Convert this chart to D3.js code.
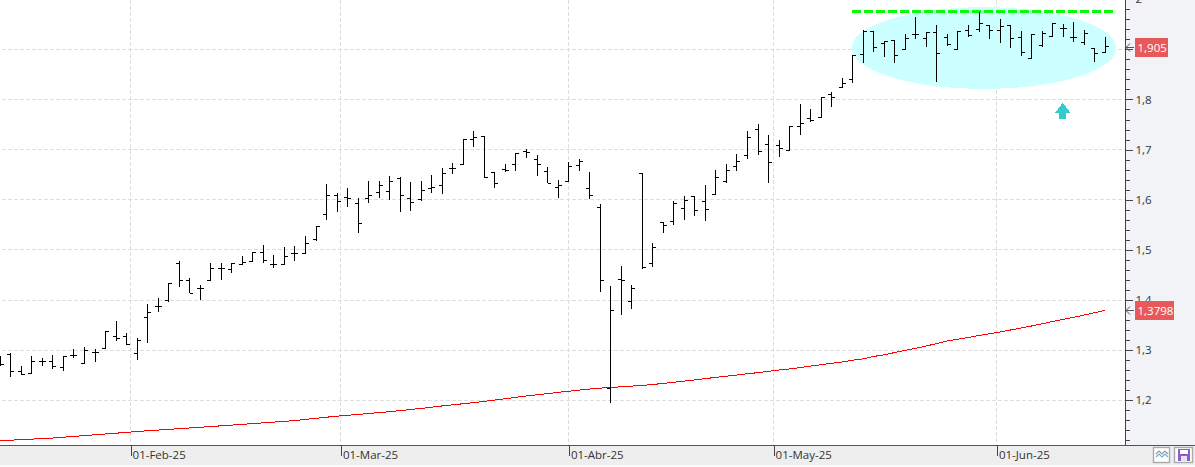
<!DOCTYPE html>
<html>
<head>
<meta charset="utf-8">
<title>Cotización diaria</title>
<script src="https://cdn.jsdelivr.net/npm/d3@7/dist/d3.min.js"></script>
<style>
  html, body { margin: 0; padding: 0; background: #fff; }
  svg { display: block; }
  text { font-family: "Open Sans", "Noto Sans", sans-serif; }
</style>
</head>
<body>
<svg id="chart" width="1195" height="467"></svg>
<script>
// Daily OHLC prices, oldest session first
const opens = [1.280,1.292,1.258,1.254,1.278,1.278,1.266,1.290,1.274,1.296,1.304,1.327,1.328,1.294,1.366,1.388,1.399,1.473,1.438,1.423,1.439,1.463,1.461,1.471,1.476,1.495,1.471,1.471,1.492,1.493,1.520,1.571,1.609,1.604,1.593,1.602,1.615,1.617,1.643,1.602,1.601,1.622,1.629,1.662,1.671,1.721,1.727,1.654,1.660,1.671,1.697,1.681,1.656,1.625,1.637,1.668,1.623,1.585,1.223,1.441,1.397,1.653,1.473,1.555,1.557,1.583,1.607,1.597,1.611,1.636,1.667,1.688,1.740,1.711,1.709,1.699,1.746,1.762,1.764,1.809,1.824,1.840,1.889,1.935,1.911,1.917,1.900,1.929,1.922,1.934,1.924,1.900,1.937,1.940,1.947,1.937,1.947,1.924,1.882,1.907,1.925,1.941,1.923,1.913,1.902,1.893];
const highs = [1.289,1.294,1.268,1.288,1.284,1.290,1.288,1.302,1.306,1.302,1.338,1.358,1.335,1.325,1.393,1.405,1.433,1.478,1.443,1.430,1.473,1.473,1.473,1.488,1.496,1.509,1.489,1.505,1.508,1.528,1.548,1.631,1.613,1.623,1.603,1.637,1.637,1.647,1.645,1.635,1.637,1.649,1.663,1.673,1.721,1.737,1.727,1.656,1.671,1.694,1.701,1.689,1.666,1.639,1.675,1.681,1.655,1.591,1.428,1.468,1.430,1.653,1.513,1.555,1.598,1.607,1.608,1.629,1.659,1.671,1.691,1.737,1.752,1.729,1.719,1.748,1.791,1.781,1.804,1.815,1.842,1.889,1.939,1.936,1.917,1.917,1.930,1.964,1.935,1.949,1.931,1.937,1.948,1.975,1.948,1.960,1.947,1.937,1.930,1.937,1.952,1.950,1.954,1.939,1.902,1.925];
const lows = [1.269,1.247,1.251,1.254,1.268,1.263,1.259,1.284,1.274,1.277,1.304,1.318,1.310,1.280,1.314,1.377,1.397,1.425,1.413,1.400,1.438,1.439,1.454,1.469,1.475,1.473,1.464,1.471,1.478,1.493,1.517,1.560,1.576,1.586,1.534,1.594,1.604,1.599,1.576,1.578,1.598,1.613,1.611,1.651,1.671,1.706,1.644,1.624,1.655,1.658,1.684,1.648,1.633,1.604,1.637,1.658,1.602,1.415,1.194,1.371,1.383,1.461,1.466,1.534,1.550,1.560,1.568,1.558,1.611,1.634,1.658,1.681,1.690,1.633,1.686,1.699,1.730,1.756,1.764,1.784,1.822,1.832,1.872,1.895,1.885,1.873,1.900,1.921,1.905,1.835,1.907,1.900,1.924,1.934,1.920,1.912,1.903,1.887,1.881,1.905,1.924,1.924,1.915,1.909,1.875,1.892];
const closes = [1.272,1.257,1.252,1.277,1.277,1.268,1.288,1.289,1.300,1.296,1.338,1.323,1.312,1.320,1.376,1.388,1.432,1.438,1.413,1.423,1.462,1.463,1.472,1.475,1.495,1.478,1.471,1.487,1.493,1.513,1.547,1.609,1.597,1.603,1.553,1.609,1.628,1.637,1.609,1.595,1.619,1.624,1.653,1.662,1.721,1.725,1.644,1.633,1.658,1.693,1.695,1.671,1.633,1.628,1.666,1.677,1.609,1.439,1.380,1.439,1.423,1.465,1.505,1.549,1.593,1.598,1.578,1.581,1.645,1.659,1.677,1.725,1.697,1.675,1.703,1.747,1.752,1.758,1.804,1.803,1.831,1.887,1.936,1.903,1.915,1.887,1.922,1.930,1.934,1.891,1.909,1.936,1.927,1.951,1.937,1.945,1.922,1.894,1.930,1.931,1.952,1.941,1.923,1.931,1.891,1.905];

// Long moving average, one reading per session
const movingAverage = [1.1194,1.1204,1.1216,1.1226,1.1238,1.1248,1.1264,1.1280,1.1296,1.1312,1.1328,1.1344,1.1360,1.1378,1.1392,1.1406,1.1420,1.1434,1.1448,1.1462,1.1477,1.1491,1.1505,1.1521,1.1535,1.1551,1.1565,1.1581,1.1595,1.1619,1.1641,1.1663,1.1683,1.1701,1.1719,1.1737,1.1755,1.1773,1.1795,1.1817,1.1838,1.1862,1.1888,1.1910,1.1932,1.1954,1.1978,1.2006,1.2032,1.2060,1.2086,1.2110,1.2134,1.2158,1.2181,1.2203,1.2225,1.2243,1.2257,1.2269,1.2283,1.2297,1.2315,1.2337,1.2359,1.2383,1.2407,1.2433,1.2457,1.2481,1.2505,1.2529,1.2552,1.2578,1.2604,1.2626,1.2652,1.2684,1.2710,1.2738,1.2764,1.2800,1.2828,1.2874,1.2909,1.2953,1.2995,1.3039,1.3083,1.3133,1.3183,1.3219,1.3254,1.3292,1.3326,1.3362,1.3402,1.3442,1.3482,1.3526,1.3572,1.3613,1.3655,1.3701,1.3747,1.3798];

// Month labels and the session slot where each month opens
const monthLabels = ["01-Feb-25","01-Mar-25","01-Abr-25","01-May-25","01-Jun-25"];
const monthSlots = [12.38,32.37,54.03,73.48,94.7];

// Price axis ticks and the two values flagged on it
const priceTicks = [1.2,1.3,1.4,1.5,1.6,1.7,1.8,1.9,2];
const minorTicks = d3.range(60).map(i => 1.12 + i * 0.02);
const lastClose = { text: "1,905", value: 1.905 };
const lastAverage = { text: "1,3798", value: 1.3798 };

// Congestion zone annotation, expressed in sessions and prices
const resistance = { from: 80.9, to: 105.8, price: 1.976 };
const zone = { fromSlot: 80.9, toSlot: 106.05, low: 1.821, high: 1.984 };
const upArrow = { slot: 100.96, tip: 1.7935, shoulder: 1.7736, base: 1.761 };

const W = 1195, H = 467, plotRight = 1125, plotBottom = 445;
const svg = d3.select("#chart");

const x = d3.scaleLinear().domain([0, 105]).range([0.3, 1105.3]);
const y = d3.scaleLinear().domain([1.2, 1.9]).range([400.3, 49.3]);
const snap = v => Math.floor(v) + 0.5;

// Panels behind the plot
svg.append("rect").attr("x", 0).attr("y", 0).attr("width", W).attr("height", H).attr("fill", "#ffffff");
svg.append("rect").attr("x", plotRight).attr("y", 0).attr("width", W - plotRight).attr("height", plotBottom)
  .attr("fill", "#f2f3f6");
svg.append("rect").attr("x", 0).attr("y", plotBottom).attr("width", W).attr("height", 20).attr("fill", "#eeeeee");
svg.append("rect").attr("x", 0).attr("y", plotBottom + 20).attr("width", W).attr("height", 2).attr("fill", "#fafafa");

// Dashed grid
const grid = svg.append("g").attr("stroke", "#dedede").attr("stroke-width", 1)
  .attr("stroke-dasharray", "4 2").attr("shape-rendering", "crispEdges");
grid.selectAll("line.h").data(priceTicks.filter(t => t < 2)).join("line").attr("class", "h")
  .attr("x1", 2).attr("x2", plotRight)
  .attr("y1", d => snap(y(d))).attr("y2", d => snap(y(d)));
grid.selectAll("line.v").data(monthSlots).join("line").attr("class", "v")
  .attr("x1", d => snap(x(d))).attr("x2", d => snap(x(d)))
  .attr("y1", 0).attr("y2", plotBottom);

// Congestion zone and its resistance line
svg.append("ellipse")
  .attr("cx", (x(zone.fromSlot) + x(zone.toSlot)) / 2)
  .attr("cy", (y(zone.low) + y(zone.high)) / 2)
  .attr("rx", (x(zone.toSlot) - x(zone.fromSlot)) / 2)
  .attr("ry", (y(zone.low) - y(zone.high)) / 2)
  .attr("fill", "#ccffff").attr("shape-rendering", "crispEdges");
svg.append("line")
  .attr("x1", x(resistance.from)).attr("x2", x(resistance.to))
  .attr("y1", y(resistance.price)).attr("y2", y(resistance.price))
  .attr("stroke", "#00ff00").attr("stroke-width", 3).attr("stroke-dasharray", "9 3")
  .attr("shape-rendering", "crispEdges");

// Moving average
svg.append("path").datum(movingAverage)
  .attr("fill", "none").attr("stroke", "#ff0000").attr("stroke-width", 1)
  .attr("shape-rendering", "crispEdges")
  .attr("d", d3.line().x((d, i) => x(i)).y(d => y(d)));

// OHLC bars
const bars = svg.append("g").attr("stroke", "#000").attr("stroke-width", 1).attr("shape-rendering", "crispEdges");
const sessions = d3.range(opens.length);
const bar = bars.selectAll("g").data(sessions).join("g");
bar.append("line")
  .attr("x1", i => snap(x(i))).attr("x2", i => snap(x(i)))
  .attr("y1", i => y(highs[i])).attr("y2", i => y(lows[i]));
bar.append("line")
  .attr("x1", i => snap(x(i)) - 3.5).attr("x2", i => snap(x(i)))
  .attr("y1", i => snap(y(opens[i]))).attr("y2", i => snap(y(opens[i])));
bar.append("line")
  .attr("x1", i => snap(x(i))).attr("x2", i => snap(x(i)) + 3.5)
  .attr("y1", i => snap(y(closes[i]))).attr("y2", i => snap(y(closes[i])));

// Entry arrow
const ax = x(upArrow.slot), ayTip = y(upArrow.tip), ayShoulder = y(upArrow.shoulder), ayBase = y(upArrow.base);
svg.append("path")
  .attr("d", d3.line()([
    [ax, ayTip], [ax + 7.5, ayShoulder], [ax + 3.5, ayShoulder], [ax + 3.5, ayBase],
    [ax - 3.5, ayBase], [ax - 3.5, ayShoulder], [ax - 7.5, ayShoulder]
  ]) + "Z")
  .attr("fill", "#33cccc").attr("shape-rendering", "crispEdges");

// Price axis; the 1,9 level sits under the last-close flag, so only its tick is drawn
const axisMinor = d3.axisRight(y).tickValues(minorTicks).tickSize(4).tickFormat("");
const axisMajor = d3.axisRight(y).tickValues(priceTicks).tickSize(7).tickPadding(3)
  .tickFormat(d => d === 1.9 ? "" : d3.format("~g")(d).replace(".", ","));
const styleAxis = g => {
  g.attr("shape-rendering", "crispEdges");
  g.selectAll("line").attr("stroke", "#444");
  g.select(".domain").remove();
  g.selectAll("text").attr("font-size", 11.5).attr("fill", "#333").attr("font-family", '"Open Sans", sans-serif');
};
svg.append("g").attr("transform", `translate(${plotRight + 0.5},0)`).call(axisMinor).call(styleAxis);
svg.append("g").attr("transform", `translate(${plotRight + 0.5},0)`).call(axisMajor).call(styleAxis);
svg.append("line").attr("x1", plotRight + 0.5).attr("x2", plotRight + 0.5).attr("y1", 0).attr("y2", plotBottom)
  .attr("stroke", "#444").attr("shape-rendering", "crispEdges");

// Date axis
const axisBottom = d3.axisBottom(x).tickValues(monthSlots).tickSize(10)
  .tickFormat((d, i) => monthLabels[i]);
const dateAxis = svg.append("g").attr("transform", `translate(0,${plotBottom + 0.5})`).call(axisBottom);
dateAxis.attr("shape-rendering", "crispEdges");
dateAxis.select(".domain").remove();
dateAxis.selectAll("line").attr("stroke", "#444");
dateAxis.selectAll("text").attr("font-size", 11.5).attr("fill", "#333").attr("text-anchor", "start")
  .attr("font-family", '"Open Sans", sans-serif').attr("x", 1.5).attr("y", 5).attr("dy", "0.71em");
svg.append("line").attr("x1", 0).attr("x2", W).attr("y1", plotBottom + 0.5).attr("y2", plotBottom + 0.5)
  .attr("stroke", "#555").attr("shape-rendering", "crispEdges");

// Value flags on the price axis
[lastClose, lastAverage].forEach(flag => {
  const fy = y(flag.value);
  const boxW = flag.text.length > 5 ? 39 : 33;
  svg.append("rect").attr("x", 1135).attr("y", Math.round(fy) - 9).attr("width", boxW).attr("height", 19)
    .attr("fill", "#e85a5a");
  svg.append("text").attr("x", 1137.5).attr("y", Math.round(fy) + 5).attr("font-size", 11.5).attr("fill", "#fff")
    .text(flag.text);
  svg.append("path")
    .attr("d", `M1134,${Math.round(fy) + 0.5}H1126M1130,${Math.round(fy) - 3.5}L1126,${Math.round(fy) + 0.5}L1130,${Math.round(fy) + 4.5}`)
    .attr("fill", "none").attr("stroke", "#555").attr("stroke-width", 1);
});

// Toolbar buttons in the corner
const btn1 = svg.append("g").attr("transform", "translate(1153,447)");
btn1.append("rect").attr("x", 0.5).attr("y", 0.5).attr("width", 16).attr("height", 15)
  .attr("fill", "#fff").attr("stroke", "#aaa").attr("stroke-width", 1.4);
btn1.append("path").attr("d", "M3,7L6,4L9,7L12,4L15,7").attr("fill", "none").attr("stroke", "#999").attr("stroke-width", 1.2);
btn1.append("path").attr("d", "M3,10L6,7L9,10L12,7L15,10").attr("fill", "none").attr("stroke", "#6ab0e0").attr("stroke-width", 1.2);
const btn2 = svg.append("g").attr("transform", "translate(1174,447)");
btn2.append("rect").attr("x", 0.5).attr("y", 0.5).attr("width", 18).attr("height", 15)
  .attr("fill", "#fff").attr("stroke", "#aaa").attr("stroke-width", 1.4);
btn2.append("rect").attr("x", 4).attr("y", 2).attr("width", 12).attr("height", 12).attr("fill", "#8a5fc7");
btn2.append("rect").attr("x", 6).attr("y", 3).attr("width", 8).attr("height", 4).attr("fill", "#fff");
btn2.append("rect").attr("x", 7).attr("y", 9).attr("width", 6).attr("height", 5).attr("fill", "#e8e0f5");
</script>
</body>
</html>
